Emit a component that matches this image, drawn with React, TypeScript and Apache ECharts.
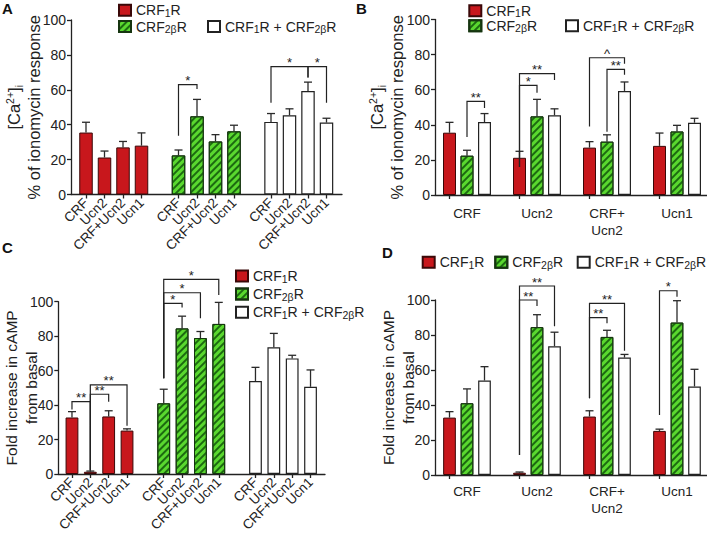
import React, { useEffect, useRef } from 'react';
import * as echarts from 'echarts';

// ---------- data ----------
const LIGANDS = ['CRF', 'Ucn2', 'CRF+Ucn2', 'Ucn1'];
const LIGANDS_WRAPPED = ['CRF', 'Ucn2', 'CRF+\nUcn2', 'Ucn1'];
const RECEPTORS = ['CRF1R', 'CRF2bR', 'CRF1R + CRF2bR'];

// [Ca2+]i, % of ionomycin response (mean, SEM) per receptor, ligand order as LIGANDS
const CA_CRF1 = [35.5, 21.2, 27.0, 28.0];
const CA_CRF1_SEM = [5.9, 3.7, 3.4, 7.3];
const CA_CRF2B = [22.4, 44.8, 30.4, 36.2];
const CA_CRF2B_SEM = [3.1, 9.7, 3.9, 3.5];
const CA_BOTH = [41.6, 45.4, 59.3, 41.2];
const CA_BOTH_SEM = [4.8, 3.7, 5.1, 2.5];

// cAMP fold increase from basal
const CAMP_CRF1 = [32.8, 1.3, 33.4, 25.2];
const CAMP_CRF1_SEM = [3.4, 0.4, 3.3, 1.0];
const CAMP_CRF2B = [41.0, 84.5, 78.9, 87.1];
const CAMP_CRF2B_SEM = [8.2, 7.1, 3.8, 12.5];
const CAMP_BOTH = [54.0, 73.6, 67.1, 50.6];
const CAMP_BOTH_SEM = [7.9, 8.0, 1.8, 9.8];

const Y_MIN = 0;
const Y_MAX = 100;
const Y_STEP = 20;

// significance brackets, grouped by receptor: [receptor, ligandA, ligandB, legA bottom, level, legB bottom, mark]
const SIG_A: [number, number, number, number, number, number, string][] = [
  [1, 0, 1, 33.7, 63, 60.5, '*'],
  [2, 0, 2, 52.6, 73.3, 67, '*'],
  [2, 2, 3, 67, 73.3, 52.6, '*'],
];
// grouped by ligand: [ligand, receptorA, receptorB, legA bottom, level, legB bottom, mark]
const SIG_B: [number, number, number, number, number, number, string][] = [
  [0, 1, 2, 33, 53.3, 49.6, '**'],
  [1, 0, 1, 16, 62.5, 58.3, '*'],
  [1, 0, 2, 16, 69.2, 65.5, '**'],
  [2, 1, 2, 36, 71.6, 68.5, '**'],
  [2, 0, 2, 39, 78.2, 74.8, '^'],
];
const SIG_C: [number, number, number, number, number, number, string][] = [
  [0, 0, 1, 37.5, 42, 2, '**'],
  [0, 1, 2, 2, 46.3, 42, '**'],
  [0, 1, 3, 2, 51.7, 28, '**'],
  [1, 0, 1, 55.5, 99, 96.7, '*'],
  [1, 0, 2, 55.5, 105.2, 90.4, '*'],
  [1, 0, 3, 55.5, 113, 103.9, '*'],
];
const SIG_D: [number, number, number, number, number, number, string][] = [
  [1, 0, 1, 11.4, 100, 96.6, '**'],
  [1, 0, 2, 11.4, 108, 85, '**'],
  [2, 0, 1, 43.8, 89.9, 86.7, '**'],
  [2, 0, 2, 43.8, 98.1, 71, '**'],
  [3, 0, 1, 34.3, 105.3, 101.9, '*'],
];

// ---------- style ----------
const FONT = '"Liberation Sans", Arial, Helvetica, sans-serif';
const INK = '#222222';
const LINE = { color: INK, width: 1.3 };

const BAR_STYLES: any[] = [
  { color: '#c8171c', borderColor: '#3a0808', borderWidth: 1 },
  {
    color: '#5ad82f',
    borderColor: '#163510',
    borderWidth: 1,
    decal: {
      symbol: 'rect',
      symbolSize: 1,
      color: '#1c6a10',
      dashArrayX: [1, 0],
      dashArrayY: [1.6, 2.4],
      rotation: -Math.PI / 4,
    },
  },
  { color: '#ffffff', borderColor: INK, borderWidth: 1.2 },
];

const RICH_LEG = {
  t: { fontSize: 14, fontFamily: FONT, color: INK, lineHeight: 16 },
  s: { fontSize: 10.5, fontFamily: FONT, color: INK, lineHeight: 10, verticalAlign: 'bottom' },
};
const legendFormat = (n: string) => {
  if (n === 'CRF1R') return '{t|CRF}{s|1}{t|R}';
  if (n === 'CRF2bR') return '{t|CRF}{s|2β}{t|R}';
  return '{t|CRF}{s|1}{t|R + CRF}{s|2β}{t|R}';
};

type Sig = [number, number, number, number, number, number, string];
type Panel = {
  frame: { left: number; top: number; width: number; height: number };
  barsLeft: number;
  barsWidth: number;
  slots: number;
  cats: string[];
  tickShow: (i: number) => boolean;
  rotate: number;
  labelMargin: number;
  barWidth: number;
  yName: string;
  yNameGap: number;
  yNameSize: number;
  slotOf: (r: number, g: number) => number;
  byLigand: boolean;
  means: number[][];
  sems: number[][];
  sig: Sig[];
};

const CA_MEANS = [CA_CRF1, CA_CRF2B, CA_BOTH];
const CA_SEMS = [CA_CRF1_SEM, CA_CRF2B_SEM, CA_BOTH_SEM];
const CAMP_MEANS = [CAMP_CRF1, CAMP_CRF2B, CAMP_BOTH];
const CAMP_SEMS = [CAMP_CRF1_SEM, CAMP_CRF2B_SEM, CAMP_BOTH_SEM];

// category lists
const byReceptorCats = () => {
  const c: string[] = [];
  RECEPTORS.forEach((_, r) => {
    if (r > 0) c.push('');
    LIGANDS.forEach((l) => c.push(l));
  });
  return c;
};
const byLigandCats = () => {
  const c: string[] = [];
  LIGANDS_WRAPPED.forEach((l) => c.push('', l, '', ''));
  return c;
};

const CA_NAME = '{a|[Ca}{p|2+}{a|]}{b|i}\n{a|% of ionomycin response}';
const CAMP_NAME = 'Fold increase in cAMP\nfrom basal';

const PANELS: Panel[] = [
  {
    frame: { left: 71, top: 20, width: 271, height: 174.5 },
    barsLeft: 76.75, barsWidth: 259, slots: 14, cats: byReceptorCats(),
    tickShow: (i) => i % 5 !== 4,
    rotate: 45, labelMargin: 6, barWidth: 13.5,
    yName: CA_NAME, yNameGap: 27, yNameSize: 16.5,
    slotOf: (r, g) => r * 5 + g, byLigand: false,
    means: CA_MEANS, sems: CA_SEMS, sig: SIG_A,
  },
  {
    frame: { left: 435, top: 19.5, width: 280, height: 175.5 },
    barsLeft: 440.75, barsWidth: 280, slots: 16, cats: byLigandCats(),
    tickShow: (i) => i % 4 === 0,
    rotate: 0, labelMargin: 10, barWidth: 13,
    yName: CA_NAME, yNameGap: 28, yNameSize: 16.5,
    slotOf: (r, g) => g * 4 + r, byLigand: true,
    means: CA_MEANS, sems: CA_SEMS, sig: SIG_B,
  },
  {
    frame: { left: 58.3, top: 301.7, width: 266.7, height: 172.3 },
    barsLeft: 62.8, barsWidth: 256.9, slots: 14, cats: byReceptorCats(),
    tickShow: (i) => i % 5 !== 4,
    rotate: 45, labelMargin: 6, barWidth: 12.8,
    yName: CAMP_NAME, yNameGap: 17, yNameSize: 15.5,
    slotOf: (r, g) => r * 5 + g, byLigand: false,
    means: CAMP_MEANS, sems: CAMP_SEMS, sig: SIG_C,
  },
  {
    frame: { left: 435, top: 300, width: 280, height: 175 },
    barsLeft: 440.75, barsWidth: 280, slots: 16, cats: byLigandCats(),
    tickShow: (i) => i % 4 === 0,
    rotate: 0, labelMargin: 8, barWidth: 12.7,
    yName: CAMP_NAME, yNameGap: 17, yNameSize: 15.5,
    slotOf: (r, g) => g * 4 + r, byLigand: true,
    means: CAMP_MEANS, sems: CAMP_SEMS, sig: SIG_D,
  },
];

const LETTERS = [
  { text: 'A', left: 2, top: 1 },
  { text: 'B', left: 356, top: 1 },
  { text: 'C', left: 2, top: 240 },
  { text: 'D', left: 382, top: 245 },
];

// legend placement: [receptor index, left, top]
const LEGEND_POS: [number, number, number][] = [
  [0, 118, 3.2], [1, 118, 19.5], [2, 207, 19.5],
  [0, 468.3, 3.7], [1, 468.3, 18.7], [2, 565, 18.7],
  [0, 235, 269], [1, 235, 287], [2, 235, 305.3],
  [0, 421.7, 255.3], [1, 494.3, 255.3], [2, 576.7, 255.3],
];

function errRender(params: any, api: any) {
  const x = api.value(0);
  const a = api.coord([x, api.value(1)]);
  const b = api.coord([x, api.value(2)]);
  const st = { stroke: '#2a2a2a', lineWidth: 1.3 };
  return {
    type: 'group',
    children: [
      { type: 'line', shape: { x1: a[0], y1: a[1], x2: b[0], y2: b[1] }, style: st },
      { type: 'line', shape: { x1: b[0] - 4, y1: b[1], x2: b[0] + 4, y2: b[1] }, style: st },
    ],
  };
}

function makeBracketRender(marks: string[]) {
  return (params: any, api: any) => {
    const s1 = api.value(0);
    const s2 = api.value(1);
    const p1 = api.coord([s1, api.value(2)]);
    const q1 = api.coord([s1, api.value(3)]);
    const q2 = api.coord([s2, api.value(3)]);
    const p2 = api.coord([s2, api.value(4)]);
    return {
      type: 'polyline',
      shape: { points: [p1, q1, q2, p2] },
      style: { stroke: INK, lineWidth: 1.2, fill: null },
      textContent: {
        style: {
          text: marks[params.dataIndex],
          fontSize: 13,
          fontFamily: FONT,
          fill: INK,
        },
      },
      textConfig: { position: 'top', distance: -5, inside: false },
    };
  };
}

function buildOption() {
  const grid: any[] = [];
  const xAxis: any[] = [];
  const yAxis: any[] = [];
  const series: any[] = [];

  PANELS.forEach((p, pi) => {
    const fi = pi * 2;
    const bi = pi * 2 + 1;
    grid.push({ ...p.frame, containLabel: false, outerBoundsMode: 'none' });
    grid.push({
      left: p.barsLeft, top: p.frame.top, width: p.barsWidth, height: p.frame.height,
      containLabel: false, outerBoundsMode: 'none',
    });
    xAxis.push({
      gridIndex: fi, type: 'value', min: 0, max: 1,
      axisLine: { show: true, onZero: false, lineStyle: LINE },
      axisTick: { show: false }, axisLabel: { show: false }, splitLine: { show: false },
    });
    xAxis.push({
      gridIndex: bi, type: 'category', data: p.cats, boundaryGap: true,
      axisLine: { show: false },
      axisTick: {
        show: true, alignWithLabel: true, length: 4, lineStyle: LINE,
        interval: (i: number) => p.tickShow(i),
      },
      axisLabel: {
        interval: 0, hideOverlap: false,
        rotate: p.rotate, margin: p.labelMargin,
        fontSize: 13.5, fontFamily: FONT, color: INK, lineHeight: 17,
      },
      splitLine: { show: false },
    });
    yAxis.push({
      gridIndex: fi, type: 'value', min: Y_MIN, max: Y_MAX, interval: Y_STEP,
      axisLine: { show: true, lineStyle: LINE },
      axisTick: { show: true, length: 4, lineStyle: LINE },
      axisLabel: { margin: 5, fontSize: 14, fontFamily: FONT, color: INK },
      splitLine: { show: false },
      name: p.yName, nameLocation: 'middle', nameRotate: 90, nameGap: p.yNameGap,
      nameMoveOverlap: false,
      nameTextStyle: {
        fontSize: p.yNameSize, fontFamily: FONT, color: INK, lineHeight: 20, align: 'center',
        rich: {
          a: { fontSize: p.yNameSize, fontFamily: FONT, color: INK, lineHeight: 20 },
          p: { fontSize: 10.5, fontFamily: FONT, color: INK, lineHeight: 10, verticalAlign: 'top' },
          b: { fontSize: 10.5, fontFamily: FONT, color: INK, lineHeight: 10, verticalAlign: 'bottom' },
        },
      },
    });
    yAxis.push({ gridIndex: bi, type: 'value', min: Y_MIN, max: Y_MAX, show: false });

    RECEPTORS.forEach((name, r) => {
      const data: (number | null)[] = new Array(p.slots).fill(null);
      p.means[r].forEach((v, g) => {
        data[p.slotOf(r, g)] = v;
      });
      series.push({
        type: 'bar', name, xAxisIndex: bi, yAxisIndex: bi, data,
        barWidth: p.barWidth, barGap: '-100%', itemStyle: BAR_STYLES[r], silent: true,
      });
    });

    const err: number[][] = [];
    RECEPTORS.forEach((_, r) => {
      p.means[r].forEach((v, g) => err.push([p.slotOf(r, g), v, v + p.sems[r][g]]));
    });
    series.push({
      type: 'custom', name: 'sem' + pi, xAxisIndex: bi, yAxisIndex: bi, data: err,
      encode: { x: 0, y: 2 }, renderItem: errRender, silent: true, z: 3,
      itemStyle: { color: INK },
    });

    const marks = p.sig.map((s) => s[6]);
    const br = p.sig.map((s) =>
      p.byLigand
        ? [p.slotOf(s[1], s[0]), p.slotOf(s[2], s[0]), s[3], s[4], s[5]]
        : [p.slotOf(s[0], s[1]), p.slotOf(s[0], s[2]), s[3], s[4], s[5]]
    );
    series.push({
      type: 'custom', name: 'sig' + pi, xAxisIndex: bi, yAxisIndex: bi, data: br,
      encode: { x: 0, y: 3 }, renderItem: makeBracketRender(marks), silent: true, clip: false, z: 3,
      itemStyle: { color: INK },
    });
  });

  const legend = LEGEND_POS.map(([r, left, top]) => ({
    data: [RECEPTORS[r]], left, top, padding: 0, icon: 'rect',
    itemWidth: 12, itemHeight: 11, selectedMode: false, formatter: legendFormat,
    textStyle: { fontSize: 14, fontFamily: FONT, color: INK, rich: RICH_LEG },
  }));

  const title = LETTERS.map((l) => ({
    text: l.text, left: l.left, top: l.top, padding: 0,
    textStyle: { fontSize: 15, fontWeight: 'bold', fontFamily: FONT, color: '#111' },
  }));

  return {
    animation: false,
    backgroundColor: '#ffffff',
    textStyle: { fontFamily: FONT },
    title, legend, grid, xAxis, yAxis, series,
  };
}

export default function App() {
  const ref = useRef<HTMLDivElement>(null);
  useEffect(() => {
    if (!ref.current) return;
    const chart = echarts.init(ref.current, undefined, { renderer: 'svg' });
    chart.setOption(buildOption() as any);
    return () => chart.dispose();
  }, []);
  return (
    <div
      ref={ref}
      style={{ position: 'fixed', left: 0, top: 0, width: 707, height: 540, background: '#fff' }}
    />
  );
}
